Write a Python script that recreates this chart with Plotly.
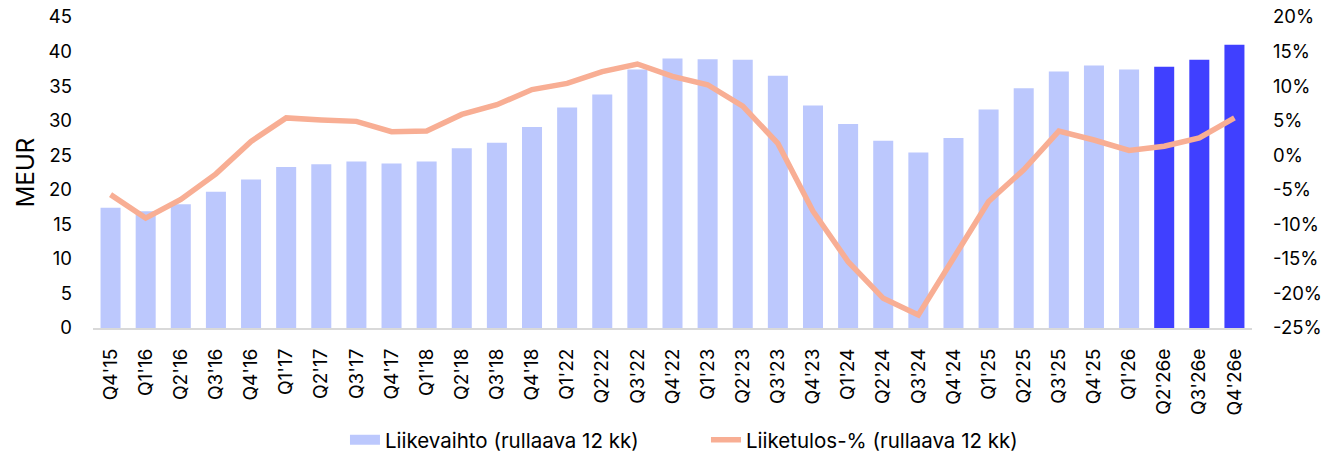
import plotly.graph_objects as go

categories = ["Q4'15", "Q1'16", "Q2'16", "Q3'16", "Q4'16", "Q1'17", "Q2'17", "Q3'17", "Q4'17",
              "Q1'18", "Q2'18", "Q3'18", "Q4'18", "Q1'22", "Q2'22", "Q3'22", "Q4'22", "Q1'23",
              "Q2'23", "Q3'23", "Q4'23", "Q1'24", "Q2'24", "Q3'24", "Q4'24", "Q1'25", "Q2'25",
              "Q3'25", "Q4'25", "Q1'26", "Q2'26e", "Q3'26e", "Q4'26e"]

revenue = [17.4, 16.9, 17.9, 19.7, 21.5, 23.3, 23.7, 24.1, 23.8,
           24.1, 26.0, 26.8, 29.1, 31.9, 33.8, 37.4, 39.0, 38.9,
           38.8, 36.5, 32.2, 29.5, 27.1, 25.4, 27.5, 31.6, 34.7,
           37.1, 38.0, 37.4, 37.8, 38.8, 41.0]

ebit_pct = [-5.7, -9.1, -6.4, -2.7, 2.0, 5.4, 5.1, 4.9, 3.4,
            3.5, 5.9, 7.3, 9.5, 10.4, 12.1, 13.2, 11.4, 10.2,
            7.1, 1.7, -8.1, -15.4, -20.7, -23.1, -14.9, -6.7, -2.1,
            3.5, 2.2, 0.7, 1.3, 2.5, 5.4]

is_estimate = [c.endswith("e") for c in categories]

left_ticks = [0, 5, 10, 15, 20, 25, 30, 35, 40, 45]
right_ticks = [-25, -20, -15, -10, -5, 0, 5, 10, 15, 20]
right_ticktext = [f"{v}%" for v in right_ticks]

LIGHT = "#BCC8FD"
DARK = "#4040FF"
LINE = "#F8AE94"
FONT = "Inter, Liberation Sans, Arial, sans-serif"

bar_colors = [DARK if e else LIGHT for e in is_estimate]

fig = go.Figure()
fig.add_trace(go.Bar(
    x=categories, y=revenue, marker=dict(color=bar_colors, line=dict(width=0)),
    name="Liikevaihto (rullaava 12 kk)", showlegend=False, yaxis="y",
))
# legend proxy for bars
fig.add_trace(go.Scatter(
    x=[None], y=[None], mode="lines", line=dict(color=LIGHT, width=10),
    name="Liikevaihto (rullaava 12 kk)", showlegend=True,
))
fig.add_trace(go.Scatter(
    x=categories, y=ebit_pct, mode="lines", line=dict(color=LINE, width=5.5),
    name="Liiketulos-% (rullaava 12 kk)", yaxis="y2",
))

fig.update_layout(
    width=1325, height=454,
    margin=dict(l=93, r=73, t=17, b=126, autoexpand=False),
    paper_bgcolor="white", plot_bgcolor="white",
    font=dict(family=FONT, color="#000000", size=18),
    bargap=0.43,
    showlegend=True,
    legend=dict(orientation="h", x=0.2174, xanchor="left", y=0.031, yanchor="middle",
                yref="container", entrywidth=316, entrywidthmode="pixels",
                font=dict(size=20.5, family=FONT), bgcolor="rgba(0,0,0,0)"),
    xaxis=dict(
        type="category", tickangle=-90, tickfont=dict(size=19),
        showgrid=False, showline=True, linecolor="#D9D9D9", linewidth=2,
        ticks="", ticklabelstandoff=11, zeroline=False, automargin=False,
    ),
    yaxis=dict(
        range=[0, 45], tickvals=left_ticks, showgrid=False, zeroline=False,
        showline=False, ticks="", tickfont=dict(size=18.5), ticklabelstandoff=20,
        title=dict(text="MEUR", font=dict(size=24), standoff=6), automargin=False,
    ),
    yaxis2=dict(
        range=[-25, 20], tickvals=right_ticks, ticktext=right_ticktext,
        overlaying="y", side="right", showgrid=False, zeroline=False,
        showline=False, ticks="", tickfont=dict(size=18.5), ticklabelstandoff=20,
        automargin=False,
    ),
)

fig.write_html(
    "out.html",
    config={"displayModeBar": False},
    post_script="document.body.style.margin='0';document.body.style.overflow='hidden';",
)
